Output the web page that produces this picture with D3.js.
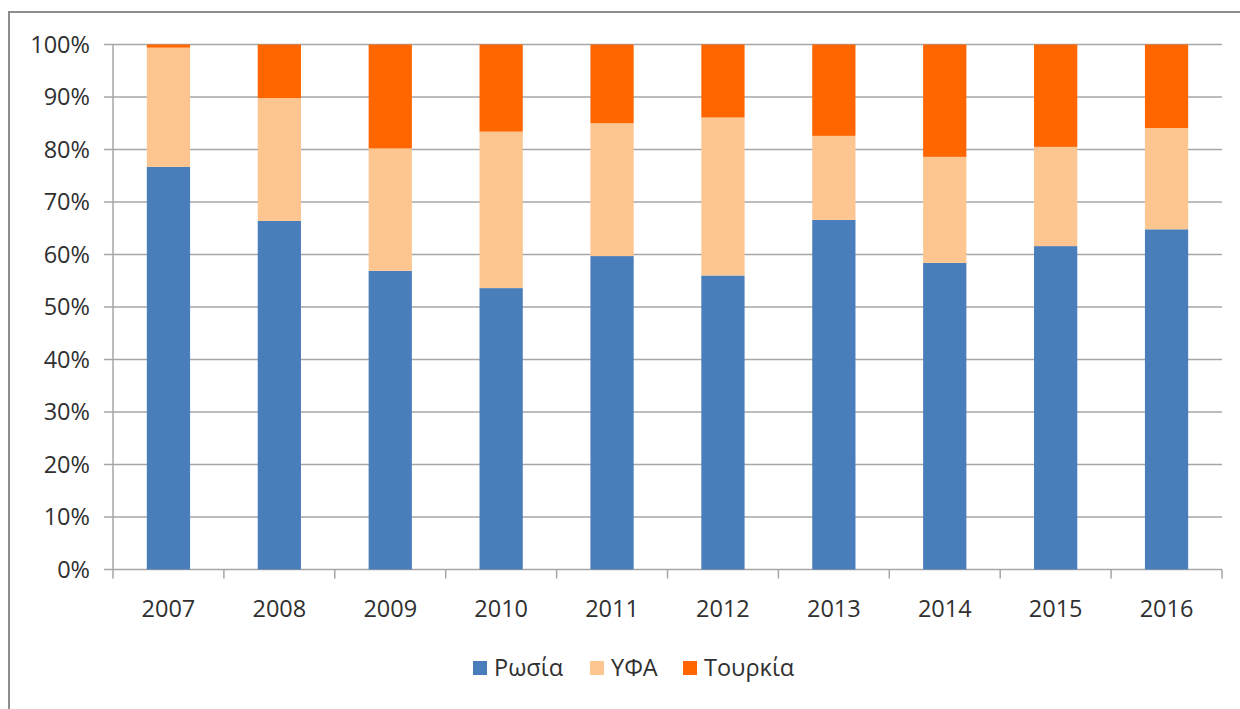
<!DOCTYPE html>
<html>
<head>
<meta charset="utf-8">
<script src="https://cdn.jsdelivr.net/npm/d3@7"></script>
<style>
    body { margin: 0; background: #fff; }
    svg { display: block; }
    text { font-family: "Open Sans", sans-serif; fill: #303030; }
</style>
</head>
<body>
<div id="chart"></div>
<script>
// Data (shares per year)
var years = ["2007", "2008", "2009", "2010", "2011", "2012", "2013", "2014", "2015", "2016"];
var russia = [76.7, 66.4, 56.9, 53.6, 59.7, 56.0, 66.6, 58.4, 61.6, 64.8];
var usa    = [22.7, 23.4, 23.3, 29.8, 25.3, 30.1, 16.0, 20.2, 18.9, 19.3];
var turkey = [0.6, 10.2, 19.8, 16.6, 15.0, 13.9, 17.4, 21.4, 19.5, 15.9];
var seriesNames = ["Ρωσία", "ΥΦΑ", "Τουρκία"];
var seriesColors = ["#4a7ebb", "#fdc590", "#ff6600"];
var yTicks = [0, 10, 20, 30, 40, 50, 60, 70, 80, 90, 100];

var width = 1240, height = 709;
var margin = {top: 44.5, left: 113, right: 18, bottom: 139.5};

var svg = d3.select("#chart")
    .append("svg")
    .attr("width", width)
    .attr("height", height);

// outer frame
svg.append("rect")
    .attr("x", 9)
    .attr("y", 12)
    .attr("width", 1300)
    .attr("height", 800)
    .attr("fill", "none")
    .attr("stroke", "#8c8c8c")
    .attr("stroke-width", 2);

var x = d3.scaleBand()
    .domain(years)
    .range([margin.left, width - margin.right])
    .paddingInner(0.61)
    .paddingOuter(0.305);

var xBound = d3.scaleLinear()
    .domain([0, years.length])
    .range([margin.left, width - margin.right]);

var y = d3.scaleLinear()
    .domain([0, 100])
    .range([height - margin.bottom, margin.top]);

// gridlines
svg.append("g").selectAll("line")
    .data(yTicks)
    .join("line")
    .attr("x1", margin.left - 9)
    .attr("x2", width - margin.right)
    .attr("y1", function(d) { return y(d); })
    .attr("y2", function(d) { return y(d); })
    .attr("stroke", "#a6a6a6")
    .attr("stroke-width", 1.5);

// y axis line
svg.append("line")
    .attr("x1", margin.left).attr("x2", margin.left)
    .attr("y1", y(100)).attr("y2", y(0))
    .attr("stroke", "#a6a6a6")
    .attr("stroke-width", 1.5);

// x axis ticks at category boundaries
svg.append("g").selectAll("line")
    .data(d3.range(years.length + 1))
    .join("line")
    .attr("x1", function(i) { return xBound(i); })
    .attr("x2", function(i) { return xBound(i); })
    .attr("y1", y(0))
    .attr("y2", y(0) + 9)
    .attr("stroke", "#a6a6a6")
    .attr("stroke-width", 1.5);

// stacked bars
var rows = years.map(function(yr, i) {
    return {year: yr, r: russia[i], u: usa[i], t: turkey[i]};
});
var stack = d3.stack().keys(["r", "u", "t"]);
var layers = stack(rows);

svg.append("g").selectAll("g")
    .data(layers)
    .join("g")
    .attr("fill", function(d, i) { return seriesColors[i]; })
    .selectAll("rect")
    .data(function(d) { return d; })
    .join("rect")
    .attr("x", function(d) { return x(d.data.year); })
    .attr("width", x.bandwidth())
    .attr("y", function(d) { return y(d[1]); })
    .attr("height", function(d) { return y(d[0]) - y(d[1]); });

// y labels
svg.append("g").selectAll("text")
    .data(yTicks)
    .join("text")
    .attr("x", 90)
    .attr("y", function(d) { return y(d); })
    .attr("dy", "0.35em")
    .attr("text-anchor", "end")
    .attr("font-size", 23.5)
    .text(function(d) { return d + "%"; });

// x labels
svg.append("g").selectAll("text")
    .data(years)
    .join("text")
    .attr("x", function(d) { return x(d) + x.bandwidth() / 2; })
    .attr("y", 617)
    .attr("text-anchor", "middle")
    .attr("font-size", 23.5)
    .text(function(d) { return d; });

// legend
var legendX = [473, 590, 683];
var legend = svg.append("g").selectAll("g")
    .data(seriesNames)
    .join("g")
    .attr("transform", function(d, i) { return "translate(" + legendX[i] + ",661)"; });

legend.append("rect")
    .attr("width", 14)
    .attr("height", 14)
    .attr("fill", function(d, i) { return seriesColors[i]; });

legend.append("text")
    .attr("x", 21)
    .attr("y", 7)
    .attr("dy", "0.35em")
    .attr("font-size", 23.5)
    .text(function(d) { return d; });
</script>
</body>
</html>
